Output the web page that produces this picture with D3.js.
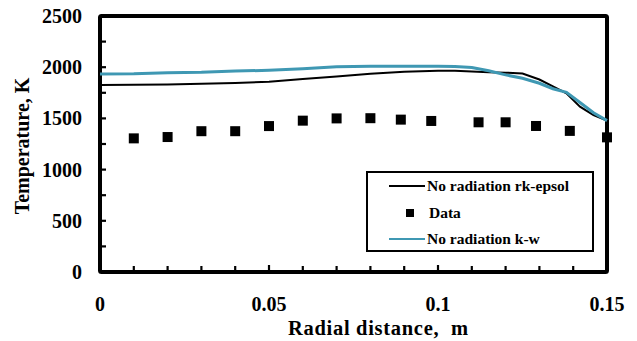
<!DOCTYPE html>
<html>
<head>
<meta charset="utf-8">
<script src="https://cdn.jsdelivr.net/npm/d3@7"></script>
<style>
  html, body { margin: 0; padding: 0; background: #fff; }
  svg { display: block; }
</style>
</head>
<body>
<svg id="chart" width="637" height="341"></svg>
<script>
// Radial temperature profiles: two model runs and the measured points
const radius = [0, 0.01, 0.02, 0.03, 0.04, 0.05, 0.06, 0.07, 0.08, 0.09, 0.1, 0.105, 0.11, 0.115, 0.12, 0.125, 0.13, 0.134, 0.138, 0.142, 0.146, 0.15];
const rkEpsilon = [1826, 1828, 1832, 1838, 1845, 1858, 1885, 1910, 1935, 1955, 1966, 1966, 1958, 1950, 1947, 1938, 1880, 1812, 1745, 1614, 1533, 1478];
const kOmega = [1934, 1936, 1946, 1950, 1962, 1970, 1985, 2005, 2010, 2010, 2010, 2008, 1996, 1966, 1925, 1892, 1843, 1790, 1755, 1655, 1555, 1478];

const dataRadius = [0.01, 0.02, 0.03, 0.04, 0.05, 0.06, 0.07, 0.08, 0.089, 0.098, 0.112, 0.12, 0.129, 0.139, 0.15];
const dataTemp = [1305, 1318, 1375, 1375, 1425, 1478, 1500, 1502, 1488, 1475, 1462, 1462, 1426, 1378, 1315];

const xTicks = [0, 0.05, 0.1, 0.15];
const xTickLabels = ["0", "0.05", "0.1", "0.15"];
const yTicks = [0, 500, 1000, 1500, 2000, 2500];
const legendLabels = ["No radiation rk-epsol", "Data", "No radiation k-w"];

const tealColor = "#3f98b3";
const serif = "'Liberation Serif', 'Times New Roman', Times, 'DejaVu Serif', serif";

const svg = d3.select("#chart");
const plotL = 100, plotR = 607, plotT = 16, plotB = 272;

const x = d3.scaleLinear().domain([0, 0.15]).range([plotL, plotR]);
const y = d3.scaleLinear().domain([0, 2500]).range([plotB, plotT]);

function label(sel, size) {
  return sel.attr("font-family", serif)
    .attr("font-weight", "bold")
    .attr("font-size", size)
    .attr("fill", "#000");
}

// minor ticks (inside, left and bottom)
const xMinor = d3.range(1, 15).map(i => i * 0.01);
const yMinor = d3.range(1, 10).map(i => i * 250);

svg.append("g").selectAll("line").data(xMinor).join("line")
  .attr("x1", d => x(d)).attr("x2", d => x(d))
  .attr("y1", plotB).attr("y2", (d, i) => plotB - ((i + 1) % 5 === 0 ? 7 : 6))
  .attr("stroke", "#000").attr("stroke-width", 2.2);

svg.append("g").selectAll("line").data(yMinor).join("line")
  .attr("x1", plotL).attr("x2", plotL + 6)
  .attr("y1", d => y(d)).attr("y2", d => y(d))
  .attr("stroke", "#000").attr("stroke-width", 2.2);

// plot frame
svg.append("rect")
  .attr("x", plotL).attr("y", plotT)
  .attr("width", plotR - plotL).attr("height", plotB - plotT)
  .attr("fill", "none").attr("stroke", "#000").attr("stroke-width", 4)
  .attr("rx", 1.5);

// tick labels
svg.append("g").selectAll("text").data(yTicks).join("text")
  .call(label, 20)
  .attr("x", 82).attr("y", d => y(d))
  .attr("dy", "0.35em")
  .attr("text-anchor", "end")
  .text(d => d);

svg.append("g").selectAll("text").data(xTicks).join("text")
  .call(label, 20)
  .attr("x", d => x(d)).attr("y", 311)
  .attr("text-anchor", "middle")
  .text((d, i) => xTickLabels[i]);

// axis titles
svg.append("text")
  .call(label, 20.5)
  .attr("x", 288).attr("y", 335)
  .attr("text-anchor", "start")
  .attr("textLength", 180)
  .attr("lengthAdjust", "spacing")
  .style("white-space", "pre")
  .text("Radial distance,  m");

svg.append("text")
  .call(label, 20)
  .attr("transform", "translate(29,146) rotate(-90)")
  .attr("text-anchor", "middle")
  .text("Temperature, K");

// model curves
const line = d3.line().x(d => x(d[0])).y(d => y(d[1]));

svg.append("path")
  .datum(radius.map((r, i) => [r, rkEpsilon[i]]))
  .attr("d", line)
  .attr("fill", "none").attr("stroke", "#000").attr("stroke-width", 2);

svg.append("path")
  .datum(radius.map((r, i) => [r, kOmega[i]]))
  .attr("d", line)
  .attr("fill", "none").attr("stroke", tealColor).attr("stroke-width", 3);

// measured points
const sq = 10;
svg.append("g").selectAll("rect").data(dataRadius).join("rect")
  .attr("x", d => x(d) - sq / 2)
  .attr("y", (d, i) => y(dataTemp[i]) - sq / 2)
  .attr("width", sq).attr("height", sq)
  .attr("fill", "#000");

// legend
const lg = svg.append("g");
lg.append("rect")
  .attr("x", 367).attr("y", 172).attr("width", 226).attr("height", 79)
  .attr("fill", "#fff").attr("stroke", "#000").attr("stroke-width", 2);

const rows = [186, 213, 239];
lg.append("line").attr("x1", 389).attr("x2", 425).attr("y1", rows[0]).attr("y2", rows[0])
  .attr("stroke", "#000").attr("stroke-width", 2);
lg.append("rect").attr("x", 406).attr("y", rows[1] - 4).attr("width", 8).attr("height", 8)
  .attr("fill", "#000");
lg.append("line").attr("x1", 389).attr("x2", 425).attr("y1", rows[2]).attr("y2", rows[2])
  .attr("stroke", tealColor).attr("stroke-width", 2);

lg.selectAll("text.lbl").data(legendLabels).join("text")
  .attr("class", "lbl")
  .call(label, 15.5)
  .attr("x", (d, i) => i === 1 ? 429 : 427)
  .attr("y", (d, i) => rows[i])
  .attr("dy", "0.35em")
  .text(d => d);
</script>
</body>
</html>
